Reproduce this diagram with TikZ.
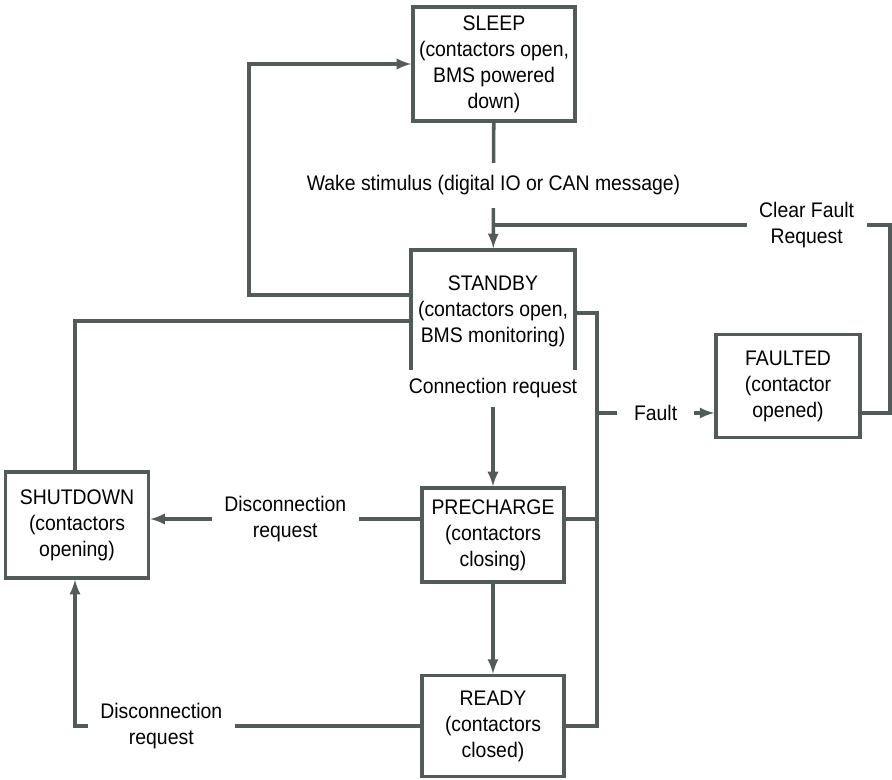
\documentclass[tikz,border=0pt]{standalone}
\usepackage{fontspec}
\setmainfont{Liberation Sans}[FakeStretch=0.92]
\usetikzlibrary{positioning,arrows}
\definecolor{linegray}{RGB}{82,90,90}

\begin{document}
\begin{tikzpicture}[
x=0.025cm, y=-0.025cm,
state/.style={
  draw=linegray,
  line width=2.5pt,
  align=center,
  inner sep=2pt,
  font=\fontsize{15}{18.5}\selectfont
},
lbl/.style={
  fill=white,
  align=center,
  inner xsep=9pt,
  inner ysep=6pt,
  font=\fontsize{15}{18.5}\selectfont
},
conn/.style={
  draw=linegray,
  line width=2.5pt
}
]
\useasboundingbox (0,0) rectangle (892,780);

\node[state,minimum width=4.05cm,minimum height=2.85cm] at (494,64)
  (sleep) {SLEEP\\(contactors open,\\BMS powered\\down)};
\node[state,minimum width=4.1cm,minimum height=3.05cm] at (493,311)
  (standby) {STANDBY\\(contactors open,\\BMS monitoring)};
\node[state,minimum width=3.55cm,minimum height=2.35cm] at (493,535)
  (precharge) {PRECHARGE\\(contactors\\closing)};
\node[state,minimum width=3.55cm,minimum height=2.525cm] at (493,726)
  (ready) {READY\\(contactors\\closed)};
\node[state,minimum width=3.6cm,minimum height=2.575cm] at (788,386)
  (faulted) {FAULTED\\(contactor\\opened)};
\node[state,minimum width=3.575cm,minimum height=2.65cm] at (77,525)
  (shutdown) {SHUTDOWN\\(contactors\\opening)};

\coordinate (loopL) at (249,295);
\coordinate (downL) at (75,321);
\coordinate (laneP) at (0,519);
\coordinate (busT) at (597,313);
\coordinate (busB) at (597,726);
\coordinate (tapF) at (597,413);
\coordinate (clrR) at (890,225);
\coordinate (merge) at (493,225);

\draw[conn,-latex] (sleep) -- node[lbl,inner ysep=9pt] {Wake stimulus (digital IO or CAN message)} (standby);
\draw[conn,-latex] (standby.west |- loopL) -- (loopL) |- (sleep.west);
\draw[conn] (standby.west |- downL) -- (downL) -- (downL |- shutdown.north);
\draw[conn,-latex] (standby) -- node[lbl,pos=0.13] {Connection request} (precharge);
\draw[conn,-latex] (precharge) -- (ready);
\draw[conn,-latex] (precharge.west |- laneP) -- node[lbl] {Disconnection\\request} (shutdown.east |- laneP);
\draw[conn,-latex] (ready.west) -- node[lbl,pos=0.75] {Disconnection\\request} (downL |- ready.west) -- (downL |- shutdown.south);

\draw[conn] (standby.east |- busT) -- (busT) -- (busB) -- (ready.east |- busB);
\draw[conn] (precharge.east |- laneP) -- (laneP -| busT);
\draw[conn,-latex] (tapF) -- node[lbl,inner xsep=12pt] {Fault} (faulted.west |- tapF);
\draw[conn] (faulted.east |- tapF) -- (tapF -| clrR) -- (clrR) -- node[lbl,pos=0.21] {Clear Fault\\Request} (merge);
\end{tikzpicture}
\end{document}
